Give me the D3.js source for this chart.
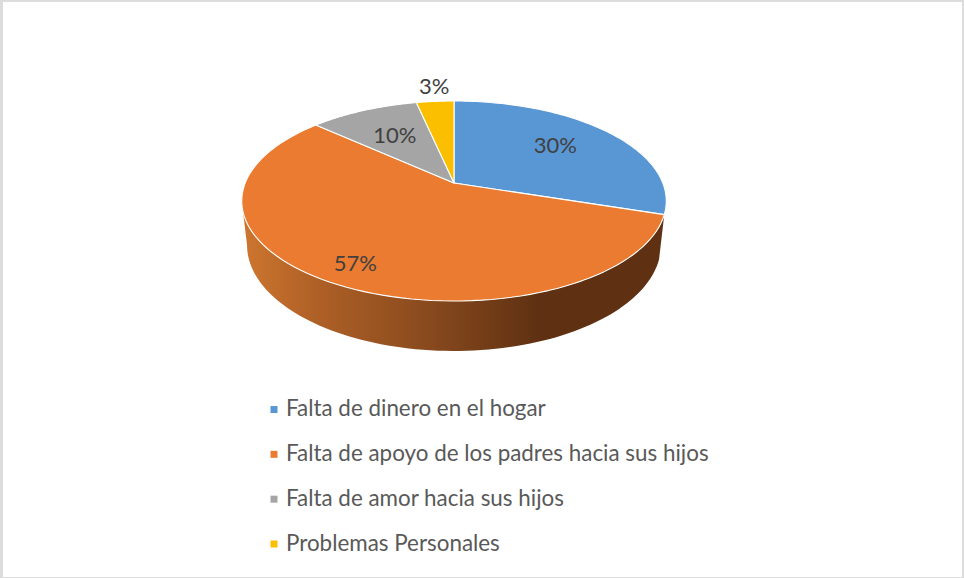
<!DOCTYPE html>
<html><head><meta charset="utf-8">
<script src="https://cdn.jsdelivr.net/npm/d3@7"></script>
<style>html,body{margin:0;padding:0;background:#fff}svg{display:block}text{font-family:Lato,"Open Sans",sans-serif}</style>
</head><body><svg id="c" width="964" height="578"></svg>
<script>
const categories = ["Falta de dinero en el hogar","Falta de apoyo de los padres hacia sus hijos","Falta de amor hacia sus hijos","Problemas Personales"];
const values = [30, 56.7, 9.9, 3.4];
const colors = ["#5997d4","#ea7b30","#a5a5a5","#fcbf00"];

const svg = d3.select("#c");
const W = 964, H = 578;
// frame
svg.append("rect").attr("width",W).attr("height",H).attr("fill","#fff");
svg.append("path").attr("fill","#dcdcdc").attr("fill-rule","evenodd")
  .attr("d",`M0 0H${W}V${H}H0Z M3 2V577H962V2Z`);

// perspective projection of a unit disc onto the page
const cx = 454, tilt = 0.18;
function project(theta, r, plane){
  const u = r*Math.sin(theta), v = -r*Math.cos(theta), w = 1 - tilt*v;
  return [cx + plane.a*u/w, (plane.b*v + plane.c)/w];
}
const topPlane = {a:208.8, b:63.82, c:183};
const basePlane = {a:203.6, b:61.9, c:225.9};

const pie = d3.pie().sort(null).value(d=>d);
const arcs = pie(values);
const line = d3.line();
const samples = (a0,a1,n=90)=>d3.range(n+1).map(i=>a0+(a1-a0)*i/n);

// side wall
const defs = svg.append("defs");
const grad = defs.append("linearGradient").attr("id","sideGrad").attr("gradientUnits","userSpaceOnUse")
  .attr("x1",245).attr("x2",665).attr("y1",0).attr("y2",0);
[[0,"#cc752f"],[0.18,"#ad5f26"],[0.4,"#8e4d1f"],[0.7,"#5f3112"],[1,"#5f3112"]]
  .forEach(([o,c])=>grad.append("stop").attr("offset",o).attr("stop-color",c));

const sideFrom = arcs[0].endAngle, sideTo = 259.6*Math.PI/180;
const orange = arcs[1];
const side = samples(Math.max(orange.startAngle,sideFrom),Math.min(orange.endAngle,sideTo));
svg.append("path")
  .attr("d",line([...side.map(t=>project(t,1,topPlane)),...side.slice().reverse().map(t=>project(t,1,basePlane))])+"Z")
  .attr("fill","url(#sideGrad)");

// top face
svg.append("g").selectAll("path").data(arcs).join("path")
  .attr("d",d=>line([project(0,0,topPlane),...samples(d.startAngle,d.endAngle).map(t=>project(t,1,topPlane))])+"Z")
  .attr("fill",(d,i)=>colors[i])
  .attr("stroke","#fff").attr("stroke-width",1.1).attr("stroke-linejoin","round");

// value labels
const labelRadius = [0.64,0.83,0.62,1.26];
const labelNudge = [[0,-4],[1,0],[0,-1],[3,1]];
svg.append("g").selectAll("text").data(arcs).join("text")
  .each(function(d,i){
    const p = project((d.startAngle+d.endAngle)/2,labelRadius[i],topPlane);
    d3.select(this).attr("x",p[0]+labelNudge[i][0]).attr("y",p[1]+labelNudge[i][1]);
  })
  .attr("text-anchor","middle").attr("dominant-baseline","central")
  .attr("font-size",22).attr("fill","#404040")
  .text(d=>Math.round(d.value)+"%");

// legend
const legendY = d3.scalePoint().domain(categories).range([409.5,544]);
const lg = svg.append("g").selectAll("g").data(categories).join("g")
  .attr("transform",d=>`translate(0,${legendY(d)})`);
lg.append("rect").attr("x",270.5).attr("y",-3.5).attr("width",7).attr("height",7)
  .attr("fill",(d,i)=>colors[i]);
lg.append("text").attr("x",286).attr("y",6.5).attr("font-size",22.4).attr("fill","#595959").text(d=>d);
</script></body></html>
